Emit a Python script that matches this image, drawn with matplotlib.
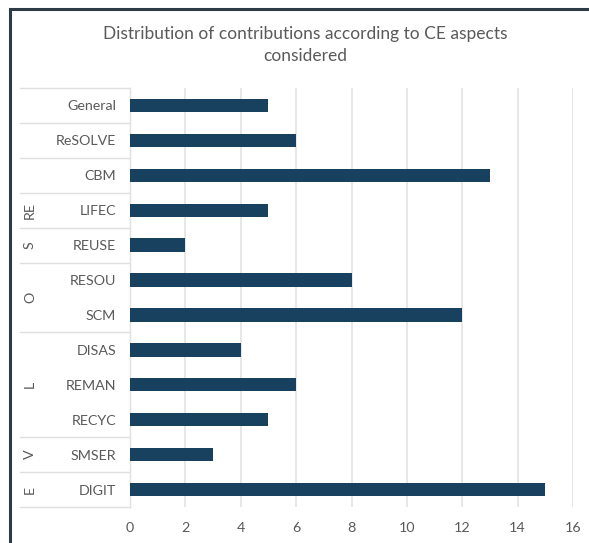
import matplotlib
matplotlib.use("Agg")
import matplotlib.pyplot as plt
from matplotlib.patches import Rectangle
import matplotlib.transforms as mtrans

categories = ["General", "ReSOLVE", "CBM", "LIFEC", "REUSE", "RESOU", "SCM",
              "DISAS", "REMAN", "RECYC", "SMSER", "DIGIT"]
values = [5, 6, 13, 5, 2, 8, 12, 4, 6, 5, 3, 15]
groups = ["", "", "", "RE", "S", "O", "O", "L", "L", "L", "V", "E"]
xticks = [0, 2, 4, 6, 8, 10, 12, 14, 16]
title = "Distribution of contributions according to CE aspects\nconsidered"

plt.rcParams['font.family'] = ['Lato', 'DejaVu Sans']
W, H = 589, 543
fig = plt.figure(figsize=(W / 100, H / 100), dpi=100)

L, R, T, B = 130, 573, 88, 507
ax = fig.add_axes([L / W, 1 - B / H, (R - L) / W, (B - T) / H])
bar_color = "#17415f"
grid_color = "#e0e0e0"
text_color = "#5a5a5a"
fs = 10.3

ypos = list(range(len(categories)))
ax.barh(ypos, values, height=0.38, color=bar_color, zorder=3)
ax.set_xlim(0, 16)
ax.set_ylim(len(categories) - 0.5, -0.5)
ax.set_xticks(xticks)
ax.set_xticklabels([str(t) for t in xticks], color=text_color, fontsize=fs)
ax.tick_params(axis='x', length=0, pad=11)
ax.set_yticks(ypos)
ax.set_yticklabels(categories, color=text_color, fontsize=fs)
ax.tick_params(axis='y', length=0, pad=10)
for s in ["top", "right", "bottom"]:
    ax.spines[s].set_visible(False)
ax.spines["left"].set_color(grid_color)
ax.spines["left"].set_linewidth(1)
ax.grid(axis='x', color=grid_color, linewidth=1.1, zorder=0)
ax.set_axisbelow(True)

# multi-level category separators and group labels
trans = mtrans.blended_transform_factory(ax.transAxes, ax.transData)
x0 = (20 - L) / (R - L)
bounds = [-0.5]
for i in range(1, len(categories)):
    if groups[i] == "" or groups[i] != groups[i - 1]:
        bounds.append(i - 0.5)
bounds.append(len(categories) - 0.5)
for b in bounds:
    ax.plot([x0, 0], [b, b], transform=trans, color=grid_color, lw=1, clip_on=False)

xg = (30 - L) / (R - L)
i = 0
while i < len(groups):
    j = i
    while j + 1 < len(groups) and groups[j + 1] == groups[i] and groups[i] != "":
        j += 1
    if groups[i]:
        ax.text(xg, (i + j) / 2, groups[i], transform=trans, rotation=90,
                ha='center', va='center', color=text_color, fontsize=fs)
    i = j + 1

fig.text(305 / W, 1 - 45 / H, title, ha='center', va='center',
         color=text_color, fontsize=12.5, linespacing=1.5)

# outer frame (cropped at right and bottom)
fig.patches.append(Rectangle((10 / W, -0.1), 1.2, 1.1 - 9.5 / H,
                             transform=fig.transFigure, fill=False,
                             edgecolor="#2e3b45", linewidth=2.2))

fig.savefig("out.png", dpi=100)
